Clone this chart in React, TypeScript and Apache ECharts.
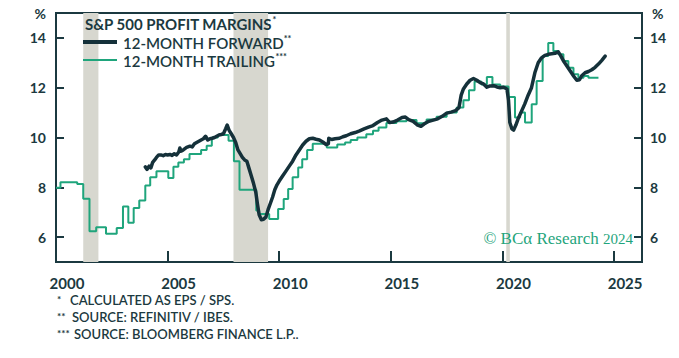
import React, { useEffect, useRef } from "react";
import * as echarts from "echarts";

const fwdYears = [
  2004.0, 2004.08, 2004.17, 2004.25, 2004.33, 2004.42, 2004.5, 2004.6, 2004.7, 2004.8, 2004.9,
  2005.0, 2005.1, 2005.2, 2005.3, 2005.4, 2005.5, 2005.55, 2005.6, 2005.7, 2005.85,
  2006.0, 2006.1, 2006.2, 2006.3, 2006.4, 2006.5, 2006.6, 2006.7, 2006.8, 2006.9,
  2007.0, 2007.1, 2007.2, 2007.3, 2007.4, 2007.5, 2007.6, 2007.67, 2007.75, 2007.85, 2007.95,
  2008.05, 2008.15, 2008.25, 2008.35, 2008.45, 2008.55, 2008.65, 2008.75, 2008.85, 2008.95,
  2009.02, 2009.1, 2009.2, 2009.3, 2009.4, 2009.5, 2009.6, 2009.7, 2009.8, 2009.9,
  2010.0, 2010.15, 2010.3, 2010.45, 2010.6, 2010.75, 2010.9,
  2011.05, 2011.2, 2011.35, 2011.5, 2011.65, 2011.8, 2011.95,
  2012.1, 2012.2, 2012.22, 2012.35, 2012.5, 2012.7, 2012.85,
  2013.0, 2013.2, 2013.4, 2013.6, 2013.8, 2014.0, 2014.2, 2014.4, 2014.6, 2014.8, 2014.95,
  2015.1, 2015.3, 2015.5, 2015.65, 2015.8, 2016.0, 2016.2, 2016.35, 2016.5, 2016.7, 2016.9,
  2017.1, 2017.3, 2017.5, 2017.7, 2017.9, 2018.05, 2018.15, 2018.25, 2018.4, 2018.55, 2018.7, 2018.85,
  2019.0, 2019.15, 2019.3, 2019.45, 2019.6, 2019.75, 2019.9,
  2020.05, 2020.2, 2020.27, 2020.33, 2020.42, 2020.5, 2020.6, 2020.7, 2020.85,
  2021.0, 2021.15, 2021.3, 2021.45, 2021.6, 2021.75, 2021.9,
  2022.05, 2022.2, 2022.35, 2022.5, 2022.6, 2022.75, 2022.9,
  2023.05, 2023.2, 2023.33, 2023.45, 2023.55, 2023.7, 2023.85,
  2024.0, 2024.15, 2024.3, 2024.45, 2024.6,
];
const fwdValues = [
  8.82, 8.72, 8.85, 8.78, 9.0, 9.1, 9.2, 9.3, 9.3, 9.27, 9.32,
  9.3, 9.32, 9.28, 9.35, 9.3, 9.42, 9.58, 9.45, 9.5, 9.6,
  9.65, 9.62, 9.75, 9.8, 9.85, 9.9, 9.95, 10.05, 9.9, 9.95,
  9.97, 10.0, 10.05, 10.1, 10.12, 10.15, 10.35, 10.5, 10.3, 10.15, 10.0,
  9.8, 9.5, 9.35, 9.2, 9.1, 9.05, 8.75, 8.45, 8.15, 7.8,
  7.35, 6.9, 6.7, 6.72, 6.8, 7.1, 7.35, 7.6, 7.9, 8.1,
  8.25, 8.45, 8.65, 8.85, 9.05, 9.3, 9.5,
  9.7, 9.85, 9.95, 9.97, 9.93, 9.9, 9.82,
  9.72, 9.75, 9.97, 9.92, 9.95, 9.97, 10.03,
  10.07, 10.15, 10.2, 10.27, 10.35, 10.42, 10.48, 10.6, 10.7, 10.75, 10.6,
  10.62, 10.7, 10.8, 10.82, 10.72, 10.65, 10.5, 10.45, 10.55, 10.65, 10.7,
  10.75, 10.85, 10.98, 11.02, 11.08, 11.2, 11.7, 11.95, 12.15, 12.3, 12.37, 12.3,
  12.2, 12.15, 12.02, 12.07, 12.08, 12.03, 12.0,
  12.02, 11.95, 11.5, 10.6, 10.35, 10.3, 10.5, 10.75, 11.05,
  11.35, 11.7, 12.0, 12.6, 13.0, 13.2, 13.3,
  13.34, 13.36, 13.38, 13.44, 13.3, 13.05, 12.85,
  12.65, 12.45, 12.3, 12.32, 12.48, 12.6, 12.65,
  12.72, 12.82, 12.95, 13.1, 13.27,
];

const trailYears = [
  2000.0, 2000.2, 2000.95, 2001.22, 2001.5, 2001.8, 2002.24, 2002.72, 2003.0, 2003.24, 2003.48, 2003.73,
  2004.0, 2004.22, 2004.5, 2005.03, 2005.26, 2005.48, 2005.73, 2005.98, 2006.5, 2006.75, 2006.98,
  2007.25, 2007.73, 2007.97, 2008.22, 2008.97, 2009.1, 2009.55, 2009.95, 2010.2, 2010.4, 2010.6, 2010.85,
  2011.03, 2011.25, 2011.5, 2012.13, 2012.6, 2012.95, 2013.2, 2013.5, 2013.9, 2014.2, 2014.45, 2014.8,
  2015.25, 2015.7, 2016.15, 2016.6, 2017.05, 2017.5, 2017.95, 2018.25, 2018.5, 2018.75, 2019.05, 2019.3,
  2019.55, 2019.9, 2020.27, 2020.56, 2020.79, 2021.01, 2021.31, 2021.53, 2021.8, 2022.05, 2022.28, 2022.5,
  2022.73, 2022.95, 2023.18, 2023.4, 2023.63, 2023.85, 2024.3,
];
const trailValues = [
  7.98, 8.2, 8.13, 7.54, 6.23, 6.4, 6.13, 6.37, 7.23, 6.58, 7.17, 7.47,
  8.07, 8.4, 8.64, 8.37, 8.83, 9.0, 9.13, 9.34, 9.5, 9.67, 10.0,
  10.1, 9.87, 9.05, 7.9, 7.07, 6.93, 6.73, 7.13, 7.53, 7.93, 8.4, 8.8,
  9.13, 9.5, 9.75, 9.6, 9.72, 9.8, 9.9, 10.0, 10.13, 10.27, 10.4, 10.58,
  10.65, 10.7, 10.57, 10.72, 10.83, 11.0, 11.2, 11.5, 11.9, 12.25, 12.13, 12.43,
  12.13, 12.05, 11.63, 10.8, 11.0, 10.6, 11.34, 12.27, 13.27, 13.8, 13.47, 13.34,
  13.07, 12.8, 12.54, 12.4, 12.47, 12.4, 12.4,
];

const recessionStarts = [2001.22, 2007.95, 2020.17];
const recessionEnds = [2001.9, 2009.5, 2020.33];

const legendTitle = "S&P 500 PROFIT MARGINS";
const seriesNames = ["12-MONTH FORWARD", "12-MONTH TRAILING"];
const footnotes = [
  ["*", "CALCULATED AS EPS / SPS."],
  ["**", "SOURCE: REFINITIV / IBES."],
  ["***", "SOURCE: BLOOMBERG FINANCE L.P.."],
];

const DARK = "#1b3940";
const FWD = "#15313a";
const GREEN = "#1fa57c";
const BAND = "#d7d7cf";
const FONT = "Lato, 'Open Sans', sans-serif";

export default function App() {
  const ref = useRef<HTMLDivElement>(null);
  useEffect(() => {
    if (!ref.current) return;
    const chart = echarts.init(ref.current, null, { renderer: "svg" });
    const fwd = fwdYears.map((y, i) => [y, fwdValues[i]]);
    const trail = trailYears.map((y, i) => [y, trailValues[i]]);
    const bands = recessionStarts.map((s, i) => [{ xAxis: s }, { xAxis: recessionEnds[i] }]);

    const yAxisCommon = {
      type: "value",
      min: 5,
      max: 15,
      splitNumber: 5,
      minInterval: 2,
      maxInterval: 2,
      splitLine: { show: false },
      axisLine: { show: true, lineStyle: { color: DARK, width: 2 } },
      axisTick: { show: true, inside: true, length: 8, lineStyle: { color: DARK, width: 2 } },
      name: "%",
      nameLocation: "end",
      nameGap: 0,
    };

    const supStyle = { fontFamily: FONT, fontWeight: "bold", fontSize: 9, fill: DARK, verticalAlign: "top", lineHeight: 12 };

    chart.setOption({
      animation: false,
      grid: {
        left: 56,
        right: 37,
        top: 13,
        bottom: 96,
        show: true,
        borderColor: DARK,
        borderWidth: 2,
        backgroundColor: "transparent",
      },
      xAxis: {
        type: "value",
        min: 2000,
        max: 2026.25,
        interval: 5,
        splitLine: { show: false },
        axisLine: { show: true, lineStyle: { color: DARK, width: 2 } },
        axisTick: { show: true, inside: true, length: 11, lineStyle: { color: DARK, width: 2 } },
        axisLabel: {
          color: DARK,
          fontFamily: FONT,
          fontWeight: "bold",
          fontSize: 15,
          lineHeight: 15,
          margin: 13,
          padding: [0, 0, 0, 22],
          showMaxLabel: false,
          formatter: (v: number) => (Math.abs(v % 5) < 1e-6 ? String(v) : ""),
        },
      },
      yAxis: [
        {
          ...yAxisCommon,
          position: "left",
          axisLabel: {
            color: DARK,
            fontFamily: FONT,
            fontWeight: "bold",
            fontSize: 14,
            margin: 10,
            showMinLabel: false,
            showMaxLabel: false,
          },
          nameTextStyle: {
            color: DARK,
            fontFamily: FONT,
            fontWeight: "bold",
            fontSize: 14,
            align: "right",
            verticalAlign: "middle",
            padding: [0, 10, 0, 0],
          },
        },
        {
          ...yAxisCommon,
          position: "right",
          axisLabel: {
            color: DARK,
            fontFamily: FONT,
            fontWeight: "bold",
            fontSize: 14,
            margin: 8,
            showMinLabel: false,
            showMaxLabel: false,
          },
          nameTextStyle: {
            color: DARK,
            fontFamily: FONT,
            fontWeight: "bold",
            fontSize: 14,
            align: "left",
            verticalAlign: "middle",
            padding: [0, 0, 0, 10],
          },
        },
      ],
      series: [
        {
          type: "line",
          name: "bands",
          data: [],
          z: 1,
          silent: true,
          markArea: {
            silent: true,
            itemStyle: { color: BAND, opacity: 1 },
            data: bands,
          },
        },
        {
          type: "line",
          name: seriesNames[1],
          data: trail,
          step: "end",
          showSymbol: false,
          symbol: "none",
          z: 3,
          lineStyle: { color: GREEN, width: 2 },
        },
        {
          type: "line",
          name: seriesNames[0],
          data: fwd,
          showSymbol: false,
          symbol: "none",
          z: 4,
          lineStyle: { color: FWD, width: 3.5, cap: "round", join: "round" },
        },
      ],
      graphic: [
        {
          type: "text",
          left: 85,
          top: 15,
          z: 100,
          style: {
            text: `{t|${legendTitle}}{s|*}`,
            rich: {
              t: { fontFamily: FONT, fontWeight: "bold", fontSize: 15, fill: DARK, lineHeight: 18 },
              s: supStyle,
            },
          },
        },
        { type: "line", z: 100, shape: { x1: 83, y1: 42, x2: 117, y2: 42 }, style: { stroke: FWD, lineWidth: 4 } },
        {
          type: "text",
          left: 123,
          top: 34,
          z: 100,
          style: {
            text: `{t|${seriesNames[0]}}{s|**}`,
            rich: {
              t: { fontFamily: FONT, fontWeight: 600, fontSize: 15, fill: DARK, lineHeight: 18 },
              s: supStyle,
            },
          },
        },
        { type: "line", z: 100, shape: { x1: 83, y1: 60, x2: 117, y2: 60 }, style: { stroke: GREEN, lineWidth: 2 } },
        {
          type: "text",
          left: 123,
          top: 52,
          z: 100,
          style: {
            text: `{t|${seriesNames[1]}}{s|***}`,
            rich: {
              t: { fontFamily: FONT, fontWeight: 600, fontSize: 15, fill: DARK, lineHeight: 18 },
              s: supStyle,
            },
          },
        },
        {
          type: "text",
          right: 46,
          top: 230,
          z: 100,
          style: {
            text: "{a|© BCα Research }{b|2024}",
            rich: {
              a: { fontFamily: "'Liberation Serif', 'DejaVu Serif', serif", fontSize: 17, fill: GREEN },
              b: { fontFamily: "'Liberation Serif', 'DejaVu Serif', serif", fontSize: 15, fill: GREEN },
            },
          },
        },
        ...footnotes.flatMap(([star, text], i) => [
          {
            type: "text",
            left: 57,
            top: 293 + i * 17,
            z: 100,
            style: { text: star, fontFamily: FONT, fontWeight: "bold", fontSize: 10, lineHeight: 12, fill: DARK },
          },
          {
            type: "text",
            left: 70 + i * 2,
            top: 293 + i * 17,
            z: 100,
            style: { text, fontFamily: FONT, fontWeight: 600, fontSize: 13, lineHeight: 14, fill: DARK },
          },
        ]),
      ],
    });
    return () => chart.dispose();
  }, []);
  return (
    <div
      ref={ref}
      style={{ position: "fixed", left: 0, top: 0, width: 679, height: 358, background: "#fff" }}
    />
  );
}
